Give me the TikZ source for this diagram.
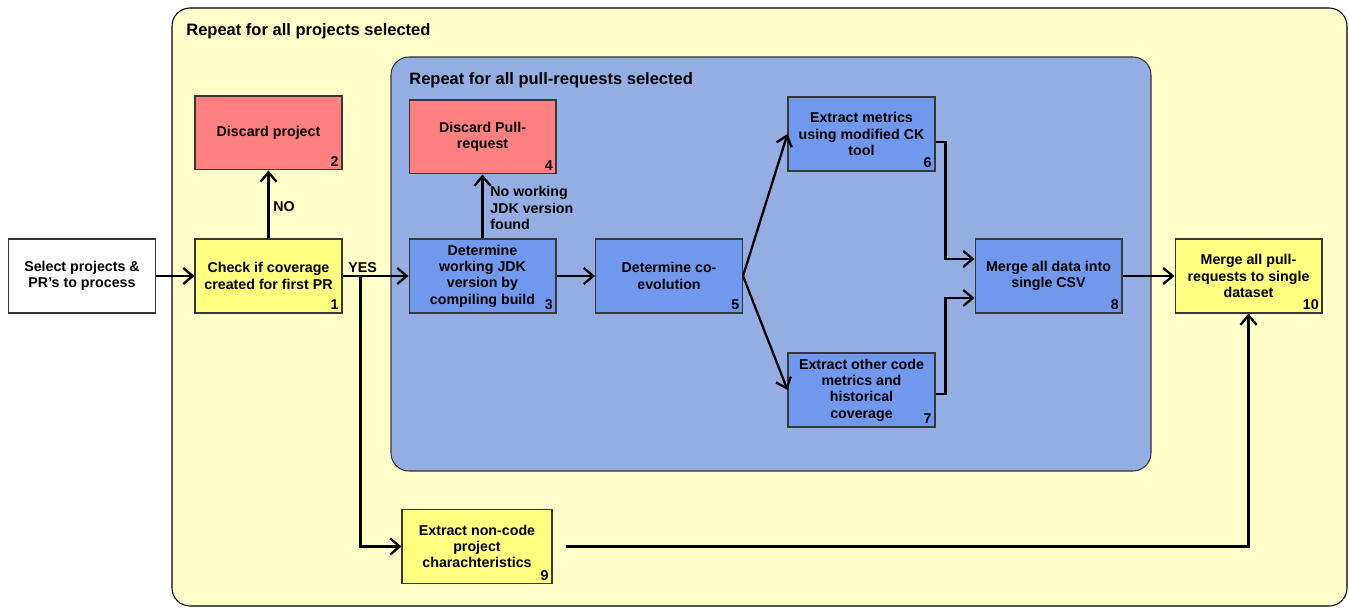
\documentclass[tikz,border=0pt]{standalone}
\usepackage{fontspec}
\setmainfont{Liberation Sans}
\usetikzlibrary{positioning}
\usetikzlibrary{arrows.meta}

\definecolor{outeryellow}{RGB}{255,253,200}
\definecolor{innerblue}{RGB}{148,173,227}
\definecolor{boxyellow}{RGB}{255,255,128}
\definecolor{boxred}{RGB}{255,128,128}
\definecolor{boxblue}{RGB}{112,153,238}
\definecolor{edgegray}{RGB}{55,55,55}

\begin{document}
\begin{tikzpicture}[x=0.02cm, y=-0.02cm,
    basenode/.style={rectangle, draw=edgegray, line width=0.6pt, minimum width=2.94cm, minimum height=1.48cm, inner sep=2pt, align=center, font=\fontsize{8.1}{9.3}\selectfont\bfseries},
    whitenode/.style={basenode, fill=white},
    yellownode/.style={basenode, fill=boxyellow},
    rednode/.style={basenode, fill=boxred},
    bluenode/.style={basenode, fill=boxblue},
    numlabel/.style={anchor=south east, inner sep=2pt, font=\fontsize{8.1}{9.3}\selectfont\bfseries},
    edgetext/.style={anchor=west, inner sep=0pt, align=left, font=\fontsize{8.1}{9.3}\selectfont\bfseries},
    titletext/.style={anchor=west, inner sep=0pt, font=\fontsize{9.4}{11}\selectfont\bfseries},
    arrowline/.style={-{Straight Barb[length=1.9mm, width=3.2mm]}, line width=1.3pt}]
        \useasboundingbox (0,0) rectangle (1349,608);

        % loops
        \draw[fill=outeryellow, draw=black, line width=0.6pt, rounded corners=0.36cm] (172,8) rectangle (1347,606);
        \node[titletext] (projtitle) at (186,31) {Repeat for all projects selected};
        \draw[fill=innerblue, draw=edgegray, line width=0.6pt, rounded corners=0.36cm] (391,57) rectangle (1151,471);
        \node[titletext] (prtitle) at (409,80) {Repeat for all pull-requests selected};

        \node[whitenode] (node0) at (82,276) {Select projects \&\\PR’s to process};
        \node[yellownode, label={[numlabel]south east:1}] (node1) at (268.5,276) {Check if coverage\\created for first PR};
        \node[rednode, label={[numlabel]south east:2}] (node2) [above=1.36cm of node1] {Discard project};
        \node[bluenode, label={[numlabel]south east:3}] (node3) [right=1.32cm of node1] {Determine\\working JDK\\version by\\compiling build};
        \node[rednode, label={[numlabel]south east:4}] (node4) [above=1.28cm of node3] {Discard Pull-\\request};
        \node[bluenode, label={[numlabel]south east:5}] (node5) [right=0.77cm of node3] {Determine co-\\evolution};
        \node[bluenode, label={[numlabel]south east:6}] (node6) at (861.5,134) {Extract metrics\\using modified CK\\tool};
        \node[bluenode, label={[numlabel]south east:7}] (node7) at (861.5,390) {Extract other code\\metrics and\\historical\\coverage};
        \node[bluenode, label={[numlabel]south east:8}] (node8) [right=4.63cm of node5] {Merge all data into\\single CSV};
        \node[yellownode, label={[numlabel]south east:10}] (node10) [right=1.04cm of node8] {Merge all pull-\\requests to single\\dataset};
        \node[yellownode, minimum width=3cm, label={[numlabel]south east:9}] (node9) at (477,546.5) {Extract non-code\\project\\charachteristics};

        \node[edgetext] (nolabel) at (273,207) {NO};
        \node[edgetext] (yeslabel) at (348,268) {YES};
        \node[edgetext] (jdklabel) at (490,208) {No working\\JDK version\\found};

        \coordinate[right=0.36cm of node1.east] (split);

        \draw[arrowline] (node0) -- (node1);
        \draw[arrowline] (node1) -- (node2);
        \draw[arrowline] (node1) -- (node3);
        \draw[arrowline] (split) |- (node9); % non-code branch
        \draw[arrowline] (node3) -- (node4);
        \draw[arrowline] (node3) -- (node5);
        \draw[arrowline] (node5.east) -- (node6.west);
        \draw[arrowline] (node5.east) -- (node7.west);
        \draw[arrowline] ([yshift=-0.16cm]node6.east) -- ++(0.2cm,0) |- ([yshift=0.34cm]node8.west);
        \draw[arrowline] ([yshift=-0.08cm]node7.east) -- ++(0.2cm,0) |- ([yshift=-0.44cm]node8.west);
        \draw[arrowline] (node8) -- (node10);
        \draw[arrowline] ([xshift=0.26cm]node9.east) -| (node10);

    \end{tikzpicture}
\end{document}
